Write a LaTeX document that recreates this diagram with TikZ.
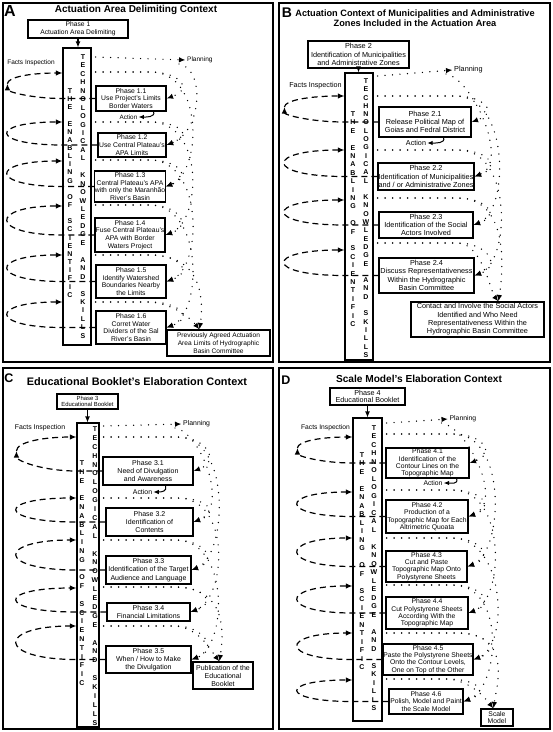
\documentclass[tikz,border=0pt]{standalone}
\usepackage{fontspec}
\setmainfont{Liberation Sans}
\usetikzlibrary{arrows.meta,calc}
\newcommand\fsz[2]{\fontsize{#1}{#2}\selectfont}
\newcommand\colletters[6]{\foreach \ch [count=\i from #5] in {#6} {\node[colletter] (#1-\i) at (#2,{#3+\i*#4}) {\ch};}}
% dashed facts-inspection loop: #1 tall, #2 phase, #3 row y, #4 rx
\newcommand\factloop[4]{\draw[factline] (#2.west) -- (#1.west |- #2.west) .. controls ($(#1.west |- #2.west)+(-1.333*#4,0)$) and ($(#1.west |- 0,#3)+(-1.333*#4,0)$) .. (#1.west |- 0,#3);}
% first loop: #1 tall, #2 phase, #3 row y, #4 middle y, #5 rx, #6 0.552*half height
\newcommand\firstfacts[6]{%
 \draw[factline] (#2.west) -- (#1.west |- #2.west) .. controls ($(#1.west |- #2.west)+(-0.552*#5,0)$) and ($(#1.west |- 0,#4)+(-#5,#6)$) .. ($(#1.west |- 0,#4)+(-#5,-1)$);
 \draw[factline] ($(#1.west |- 0,#4)+(-#5,-1)$) .. controls ($(#1.west |- 0,#4)+(-#5,-1-#6)$) and ($(#1.west |- 0,#3)+(-0.552*#5,0)$) .. (#1.west |- 0,#3);}
% small planning arc: #1 tall, #2 phase, #3 row y
\newcommand\smallplan[3]{\draw[planline] ($(#1.east |- 0,#3)+(4,0)$) -- ($(#2.east |- 0,#3)+(-16,0)$) .. controls ($(#2.east |- 0,#3)+(12,0)$) and ($(#2.east)+(28,-10)$) .. (#2.east);}
% big planning arc: #1 tall, #2 phase of the row, #3 row y, #4 target phase
\newcommand\bigplan[4]{\draw[planline] ($(#1.east |- 0,#3)+(4,0)$) -- ($(#2.east |- 0,#3)+(-16,0)$) .. controls ($(#2.east |- 0,#3)+(38,0)$) and ($(#4.east)+(36,-14)$) .. (#4.east);}
% first big arc from the planning label: #1 label, #2 target phase
\newcommand\firstbig[2]{\draw[planline] ($(#1.west)+(-8,4)$) .. controls ($(#1.west)+(18,8)$) and ($(#2.east)+(36,-14)$) .. (#2.east);}
% arcs to the final box: #1 tall, #2 phase of row, #3 row y, #4 tip
\newcommand\finalsmall[4]{\draw[planline] ($(#1.east |- 0,#3)+(4,0)$) -- ($(#2.east |- 0,#3)+(-16,0)$) .. controls ($(#2.east |- 0,#3)+(8,2)$) and ($(#4)+(-8,-10)$) .. (#4);}
\newcommand\finalbig[4]{\draw[planline] ($(#1.east |- 0,#3)+(4,0)$) -- ($(#2.east |- 0,#3)+(-16,0)$) .. controls ($(#2.east |- 0,#3)+(38,0)$) and ($(#4)+(4,-25)$) .. (#4);}
\begin{document}
\begin{tikzpicture}[x=1pt,y=-1pt,
 frame/.style={draw,line width=1.5pt},
 phase/.style={draw,line width=1.2pt,inner sep=0pt,align=center},
 phA/.style={phase,font=\fsz{6.8}{7.6}},
 phB/.style={phase,font=\fsz{7.3}{8.3}},
 phC/.style={phase,font=\fsz{7.0}{8.2}},
 phD/.style={phase,font=\fsz{6.8}{7.4}},
 tallbox/.style={draw,line width=1.1pt,inner sep=0pt},
 colletter/.style={inner sep=0pt,font=\bfseries\fsz{7}{7}},
 lbl/.style={inner sep=0pt},
 factline/.style={line width=1.2pt,dash pattern=on 6pt off 4pt,-{Latex[length=6.5pt,width=5.5pt]}},
 planline/.style={line width=1.45pt,line cap=round,dash pattern=on 0pt off 7.5pt,-{Latex[length=6.5pt,width=5.5pt]}},
 headarrow/.style={line width=1.1pt,-{Latex[length=6pt,width=5pt]}},
 actarrow/.style={line width=1pt,-{Latex[length=5.5pt,width=4.5pt]}},
 title/.style={inner sep=0pt,align=center},
 panelletter/.style={inner sep=0pt}]
\fill[white] (0,0) rectangle (553,732);
\useasboundingbox (0,0) rectangle (553,732);

% ================= PANEL A =================
\draw[frame] (3,3) rectangle (273,362);
\node[panelletter,font=\bfseries\fsz{16}{16}] (Aletter) at (10,11) {A};
\node[title,font=\bfseries\fsz{10}{11}] (Atitle) at (136,10) {Actuation Area Delimiting Context};
\node[phase,font=\fsz{6.7}{8},minimum width=100pt,minimum height=18pt] (Ah) at (78,29) {Phase 1\\Actuation Area Delimiting};
\node[tallbox,minimum width=28pt,minimum height=297pt] (At) at (77,196.5) {};
\colletters{AR}{83}{57}{8.45}{0}{T,E,C,H,N,O,L,O,G,I,C,A,L}
\colletters{AR}{83}{57}{8.45}{14}{K,N,O,W,L,E,D,G,E}
\colletters{AR}{83}{57}{8.45}{24}{A,N,D}
\colletters{AR}{83}{57}{8.45}{28}{S,K,I,L,L,S}
\colletters{AL}{70}{91}{8.15}{0}{T,H,E}
\colletters{AL}{70}{91}{8.15}{4}{E,N,A,B,L,I,N,G}
\colletters{AL}{70}{91}{8.15}{13}{O,F}
\colletters{AL}{70}{91}{8.15}{16}{S,C,I,E,N,T,I,F,I,C}
\draw[headarrow] (Ah.south) -- (Ah.south |- At.north);
\node[phA,minimum width=70pt,minimum height=25pt] (A1) at (131,98.5) {Phase 1.1\\Use Project's Limits\\Border Waters};
\node[phA,minimum width=68pt,minimum height=24pt] (A2) at (132,145) {Phase 1.2\\Use Central Plateau's\\APA Limits};
\node[phA,minimum width=70pt,minimum height=31pt] (A3) at (130,186.5) {Phase 1.3\\Central Plateau's APA\\with only the Maranhão\\River's Basin};
\node[phA,minimum width=70pt,minimum height=34pt] (A4) at (130,235) {Phase 1.4\\Fuse Central Plateau's\\APA with Border\\Waters Project};
\node[phA,minimum width=70pt,minimum height=33pt] (A5) at (131,281.5) {Phase 1.5\\Identify Watershed\\Boundaries Nearby\\the Limits};
\node[phA,minimum width=70pt,minimum height=33pt] (A6) at (131,327.5) {Phase 1.6\\Corret Water\\Dividers of the Sal\\River's Basin};
\node[phase,font=\fsz{6.6}{7.8},minimum width=103pt,minimum height=26pt] (Afin) at (218.5,343) {Previously Agreed Actuation\\Area Limits of Hydrographic\\Basin Committee};
\coordinate (Atip) at ($(Afin.north west)+(33,0)$);
\node[lbl,font=\fsz{6.5}{7}] (Afacts) at (31,63) {Facts Inspection};
\node[lbl,font=\fsz{6.5}{7},anchor=west] (Aplan) at (187,60) {Planning};
\node[lbl,font=\fsz{6.3}{7}] (Aact) at (128.5,117) {Action};
\draw[actarrow] ($(A1.south east)+(-13,0)$) .. controls ($(A1.south east)+(-11,6)$) and ($(Aact.east)+(8,0)$) .. ($(Aact.east)+(1,0)$);
\firstfacts{At}{A1}{73}{84.75}{55}{7}
\factloop{At}{A2}{122}{55}
\factloop{At}{A3}{161}{55}
\factloop{At}{A4}{206}{55}
\factloop{At}{A5}{255}{55}
\factloop{At}{A6}{302}{55}
\draw[planline] ($(At.east |- 0,57)+(4,0)$) -- ($(Aplan.west)+(-1.5,0)$);
\smallplan{At}{A1}{72}
\smallplan{At}{A2}{122}
\smallplan{At}{A3}{160}
\smallplan{At}{A4}{205}
\smallplan{At}{A5}{255}
\smallplan{At}{A6}{302}
\firstbig{Aplan}{A2}
\bigplan{At}{A1}{72}{A3}
\bigplan{At}{A2}{122}{A4}
\bigplan{At}{A3}{160}{A5}
\bigplan{At}{A4}{205}{A6}
\finalbig{At}{A5}{255}{Atip}
\finalsmall{At}{A6}{302}{Atip}

% ================= PANEL B =================
\draw[frame] (279,3) rectangle (550,362);
\node[panelletter,font=\bfseries\fsz{14}{14}] (Bletter) at (287,13) {B};
\node[title,font=\bfseries\fsz{9.2}{10}] (Btitle) at (415,18) {Actuation Context of Municipalities and Administrative\\Zones Included in the Actuation Area};
\node[phase,font=\fsz{7.3}{8.5},minimum width=101pt,minimum height=27pt] (Bh) at (358.5,54.5) {Phase 2\\Identification of Municipalities\\and Administrative Zones};
\node[tallbox,minimum width=28pt,minimum height=287pt] (Bt) at (359,216.5) {};
\colletters{BR}{366}{81}{8.3}{0}{T,E,C,H,N,O,L,O,G,I,C,A,L}
\colletters{BR}{366}{81}{8.3}{14}{K,N,O,W,L,E,D,G,E}
\colletters{BR}{366}{81}{8.3}{24}{A,N,D}
\colletters{BR}{366}{81}{8.3}{28}{S,K,I,L,L,S}
\colletters{BL}{353}{114}{8.4}{0}{T,H,E}
\colletters{BL}{353}{114}{8.4}{4}{E,N,A,B,L,I,N,G}
\colletters{BL}{353}{114}{8.4}{13}{O,F}
\colletters{BL}{353}{114}{8.4}{16}{S,C,I,E,N,T,I,F,I,C}
\draw[headarrow] (Bh.south) -- (Bh.south |- Bt.north);
\node[phB,minimum width=92pt,minimum height=30pt] (B1) at (425,122) {Phase 2.1\\Release Political Map of\\Goias and Fedral District};
\node[phB,minimum width=96pt,minimum height=27pt] (B2) at (426,176.5) {Phase 2.2\\Identification of Municipalities\\and / or Administrative Zones};
\node[phB,minimum width=94pt,minimum height=26pt] (B3) at (426,225) {Phase 2.3\\Identification of the Social\\Actors Involved};
\node[phB,minimum width=95pt,minimum height=35pt] (B4) at (426.5,275.5) {Phase 2.4\\Discuss Representativeness\\Within the Hydrographic\\Basin Committee};
\node[phB,minimum width=133pt,minimum height=35pt] (Bfin) at (477.5,319.5) {Contact and Involve the Social Actors\\Identified and Who Need\\Representativeness Within the\\Hydrographic Basin Committee};
\coordinate (Btip) at ($(Bfin.north west)+(88,0)$);
\node[lbl,font=\fsz{7.2}{8}] (Bfacts) at (315.5,86) {Facts Inspection};
\node[lbl,font=\fsz{7.3}{8},anchor=west] (Bplan) at (454,70) {Planning};
\node[lbl,font=\fsz{7.2}{8}] (Bact) at (416,143) {Action};
\draw[actarrow] ($(B1.south east)+(-28,0)$) .. controls ($(B1.south east)+(-26,6)$) and ($(Bact.east)+(9,0)$) .. ($(Bact.east)+(1,0)$);
\firstfacts{Bt}{B1}{96}{108}{60}{7}
\factloop{Bt}{B2}{150}{60}
\factloop{Bt}{B3}{200}{60}
\factloop{Bt}{B4}{250}{60}
\draw[planline] ($(Bt.east |- 0,76)+(4,0)$) -- ($(Bplan.west)+(-1.5,0)$);
\smallplan{Bt}{B1}{96}
\smallplan{Bt}{B2}{150}
\smallplan{Bt}{B3}{198}
\smallplan{Bt}{B4}{243}
\firstbig{Bplan}{B2}
\bigplan{Bt}{B1}{96}{B3}
\bigplan{Bt}{B2}{150}{B4}
\finalbig{Bt}{B3}{198}{Btip}
\finalsmall{Bt}{B4}{243}{Btip}

% ================= PANEL C =================
\draw[frame] (3,368) rectangle (273,729);
\node[panelletter,font=\bfseries\fsz{12.5}{13}] (Cletter) at (9,378.5) {C};
\node[title,font=\bfseries\fsz{10.9}{12}] (Ctitle) at (137,382) {Educational Booklet's Elaboration Context};
\node[phase,font=\fsz{5.9}{6.5},minimum width=61pt,minimum height=15pt] (Ch) at (87.5,401.5) {Phase 3\\Educational Booklet};
\node[tallbox,minimum width=22pt,minimum height=304pt] (Ct) at (88,575) {};
\colletters{CR}{95}{429}{8.9}{0}{T,E,C,H,N,O,L,O,G,I,C,A,L}
\colletters{CR}{95}{429}{8.9}{14}{K,N,O,W,L,E,D,G,E}
\colletters{CR}{95}{429}{8.9}{24}{A,N,D}
\colletters{CR}{95}{429}{8.9}{28}{S,K,I,L,L,S}
\colletters{CL}{82}{463}{8.8}{0}{T,H,E}
\colletters{CL}{82}{463}{8.8}{4}{E,N,A,B,L,I,N,G}
\colletters{CL}{82}{463}{8.8}{13}{O,F}
\colletters{CL}{82}{463}{8.8}{16}{S,C,I,E,N,T,I,F,I,C}
\draw[headarrow] (Ch.south) -- (Ch.south |- Ct.north);
\node[phC,minimum width=90pt,minimum height=28pt] (C1) at (148,471) {Phase 3.1\\Need of Divulgation\\and Awareness};
\node[phC,minimum width=87pt,minimum height=28pt] (C2) at (149.5,522) {Phase 3.2\\Identification of\\Contents};
\node[phC,minimum width=85pt,minimum height=28pt] (C3) at (148.5,570) {Phase 3.3\\Identification of the Target\\Audience and Language};
\node[phC,minimum width=83pt,minimum height=18pt] (C4) at (148.5,612) {Phase 3.4\\Financial Limitations};
\node[phC,minimum width=85pt,minimum height=27pt] (C5) at (148.5,659.5) {Phase 3.5\\When / How to Make\\the Divulgation};
\node[phase,font=\fsz{7.0}{8},minimum width=60pt,minimum height=27pt] (Cfin) at (223,675.5) {Publication of the\\Educational\\Booklet};
\coordinate (Ctip) at ($(Cfin.north west)+(27,0)$);
\node[lbl,font=\fsz{6.9}{8}] (Cfacts) at (40,428) {Facts Inspection};
\node[lbl,font=\fsz{6.9}{8},anchor=west] (Cplan) at (183,424) {Planning};
\node[lbl,font=\fsz{6.9}{8}] (Cact) at (142.5,492) {Action};
\draw[actarrow] ($(C1.south east)+(-28,0)$) .. controls ($(C1.south east)+(-26,6)$) and ($(Cact.east)+(9,0)$) .. ($(Cact.east)+(1,0)$);
\firstfacts{Ct}{C1}{437}{452}{60}{9}
\factloop{Ct}{C2}{498}{60}
\factloop{Ct}{C3}{540}{60}
\factloop{Ct}{C4}{588}{60}
\factloop{Ct}{C5}{626}{60}
\draw[planline] ($(Ct.east |- 0,426)+(4,0)$) -- ($(Cplan.west)+(-1.5,0)$);
\smallplan{Ct}{C1}{437}
\smallplan{Ct}{C2}{498}
\smallplan{Ct}{C3}{540}
\smallplan{Ct}{C4}{587}
\smallplan{Ct}{C5}{626}
\firstbig{Cplan}{C2}
\bigplan{Ct}{C1}{437}{C3}
\bigplan{Ct}{C2}{498}{C4}
\bigplan{Ct}{C3}{540}{C5}
\finalbig{Ct}{C4}{587}{Ctip}
\finalsmall{Ct}{C5}{626}{Ctip}

% ================= PANEL D =================
\draw[frame] (279,368) rectangle (550,729);
\node[panelletter,font=\bfseries\fsz{12.5}{13}] (Dletter) at (286,380) {D};
\node[title,font=\bfseries\fsz{10.15}{11}] (Dtitle) at (419,379) {Scale Model's Elaboration Context};
\node[phase,font=\fsz{7.2}{7.4},minimum width=75pt,minimum height=17pt] (Dh) at (367.5,396.5) {Phase 4\\Educational Booklet};
\node[tallbox,minimum width=29pt,minimum height=303pt] (Dt) at (367.5,569.5) {};
\colletters{DR}{374}{428}{8.5}{0}{T,E,C,H,N,O,L,O,G,I,C,A,L}
\colletters{DR}{374}{428}{8.5}{14}{K,N,O,W,L,E,D,G,E}
\colletters{DR}{374}{428}{8.5}{24}{A,N,D}
\colletters{DR}{374}{428}{8.5}{28}{S,K,I,L,L,S}
\colletters{DL}{362}{455}{8.5}{0}{T,H,E}
\colletters{DL}{362}{455}{8.5}{4}{E,N,A,B,L,I,N,G}
\colletters{DL}{362}{455}{8.5}{13}{O,F}
\colletters{DL}{362}{455}{8.5}{16}{S,C,I,E,N,T,I,F,I,C}
\draw[headarrow] (Dh.south) -- (Dh.south |- Dt.north);
\node[phD,minimum width=83pt,minimum height=30pt] (D1) at (427.5,463) {Phase 4.1\\Identification of the\\Contour Lines on the\\Topographic Map};
\node[phD,minimum width=82pt,minimum height=33pt] (D2) at (427,516.5) {Phase 4.2\\Production of a\\Topographic Map for Each\\Altrimetric Quoata};
\node[phD,minimum width=81pt,minimum height=31pt] (D3) at (426.5,566.5) {Phase 4.3\\Cut and Paste\\Topographic Map Onto\\Polystyrene Sheets};
\node[phD,minimum width=82pt,minimum height=32pt] (D4) at (427,613) {Phase 4.4\\Cut Polystyrene Sheets\\According With the\\Topographic Map};
\node[phD,minimum width=90pt,minimum height=31pt] (D5) at (428,659.5) {Phase 4.5\\Paste the Polystyrene Sheets\\Onto the Contour Levels,\\One on Top of the Other};
\node[phD,minimum width=74pt,minimum height=25pt] (D6) at (426,701.5) {Phase 4.6\\Polish, Model and Paint\\the Scale Model};
\node[phase,font=\fsz{6.8}{7.8},minimum width=32pt,minimum height=17pt] (Dfin) at (497,717.5) {Scale\\Model};
\coordinate (Dtip) at ($(Dfin.north west)+(13,0)$);
\node[lbl,font=\fsz{6.7}{8}] (Dfacts) at (325.5,428) {Facts Inspection};
\node[lbl,font=\fsz{6.8}{8},anchor=west] (Dplan) at (449.5,419) {Planning};
\node[lbl,font=\fsz{6.8}{8}] (Dact) at (433,483) {Action};
\draw[actarrow] ($(D1.south east)+(-13,0)$) .. controls ($(D1.south east)+(-11,6)$) and ($(Dact.east)+(8,0)$) .. ($(Dact.east)+(1,0)$);
\firstfacts{Dt}{D1}{437}{449}{55}{7}
\factloop{Dt}{D2}{492}{55}
\factloop{Dt}{D3}{538}{55}
\factloop{Dt}{D4}{586}{55}
\factloop{Dt}{D5}{633}{55}
\factloop{Dt}{D6}{680}{55}
\draw[planline] ($(Dt.east |- 0,423)+(4,0)$) -- ($(Dplan.west)+(-1.5,0)$);
\smallplan{Dt}{D1}{434}
\smallplan{Dt}{D2}{490}
\smallplan{Dt}{D3}{538}
\smallplan{Dt}{D4}{585}
\smallplan{Dt}{D5}{633}
\smallplan{Dt}{D6}{679}
\firstbig{Dplan}{D2}
\bigplan{Dt}{D1}{434}{D3}
\bigplan{Dt}{D2}{490}{D4}
\bigplan{Dt}{D3}{538}{D5}
\bigplan{Dt}{D4}{585}{D6}
\finalbig{Dt}{D5}{633}{Dtip}
\finalsmall{Dt}{D6}{679}{Dtip}
\end{tikzpicture}
\end{document}
